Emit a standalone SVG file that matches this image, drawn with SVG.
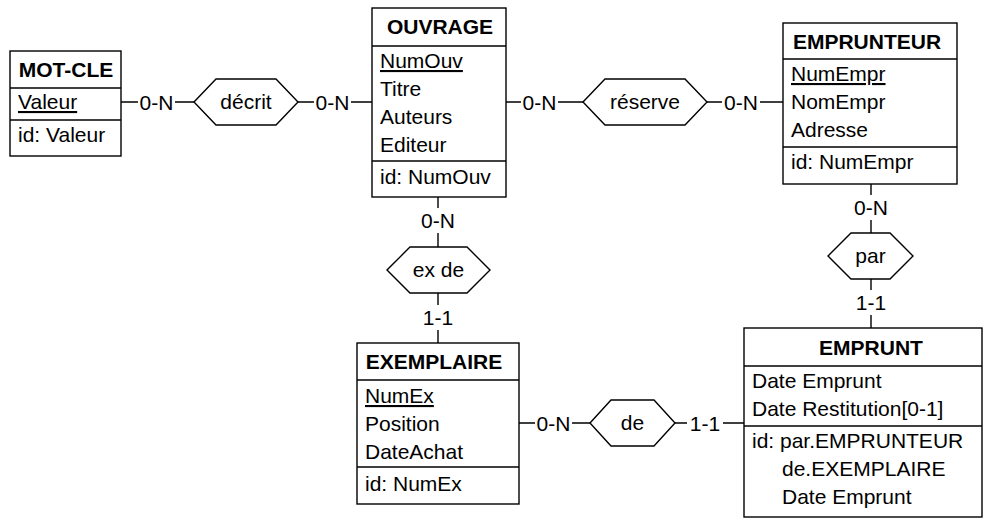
<svg xmlns="http://www.w3.org/2000/svg" width="984" height="519" viewBox="0 0 984 519">
<style>
.box{fill:#fff;stroke:#000;stroke-width:1.4}
.sep{stroke:#000;stroke-width:1.4}
.hex{fill:#fff;stroke:#000;stroke-width:1.4}
.ln{stroke:#000;stroke-width:1.4;fill:none}
text{font-family:"Liberation Sans",Arial,sans-serif;font-size:21px;fill:#000}
.t{font-weight:bold;text-anchor:middle}
.c{text-anchor:middle}
.u{text-decoration:underline}
</style>
<rect width="984" height="519" fill="#fff"/>
<g id="connectors">
  <!-- MOT-CLE - decrit - OUVRAGE -->
  <path class="ln" d="M121,102H138M175,102H194M298,102H314M351,102H372"/>
  <text class="c" x="156.5" y="109.5">0-N</text>
  <text class="c" x="332.5" y="109.5">0-N</text>
  <!-- OUVRAGE - reserve - EMPRUNTEUR -->
  <path class="ln" d="M506,102H521M558,102H583M707,102H722M760,102H783"/>
  <text class="c" x="539.5" y="109.5">0-N</text>
  <text class="c" x="741" y="109.5">0-N</text>
  <!-- OUVRAGE - ex de - EXEMPLAIRE -->
  <path class="ln" d="M438,197V208M438,233V247M438,293V305M438,330V343"/>
  <text class="c" x="438" y="228">0-N</text>
  <text class="c" x="438" y="325">1-1</text>
  <!-- EMPRUNTEUR - par - EMPRUNT -->
  <path class="ln" d="M871,184V195M871,220V233M871,279V290M871,315V328"/>
  <text class="c" x="871" y="215">0-N</text>
  <text class="c" x="871" y="310">1-1</text>
  <!-- EXEMPLAIRE - de - EMPRUNT -->
  <path class="ln" d="M519,423H535M572,423H590M675,423H687M723,423H744"/>
  <text class="c" x="553.5" y="430.5">0-N</text>
  <text class="c" x="705" y="430.5">1-1</text>
</g>
<g id="decrit">
  <polygon class="hex" points="194,102 216,79 276,79 298,102 276,125 216,125"/>
  <text class="c" x="246" y="109">décrit</text>
</g>
<g id="reserve">
  <polygon class="hex" points="583,102 605,79 685,79 707,102 685,125 605,125"/>
  <text class="c" x="645" y="109">réserve</text>
</g>
<g id="exde">
  <polygon class="hex" points="387,270 410,247 467,247 490,270 467,293 410,293"/>
  <text class="c" x="438.5" y="277">ex de</text>
</g>
<g id="par">
  <polygon class="hex" points="828,256 851,233 890,233 913,256 890,279 851,279"/>
  <text class="c" x="870.5" y="263">par</text>
</g>
<g id="de">
  <polygon class="hex" points="590,423 611,400 654,400 675,423 654,446 611,446"/>
  <text class="c" x="632.5" y="430">de</text>
</g>
<g id="motcle">
  <rect class="box" x="10" y="51" width="111" height="105"/>
  <line class="sep" x1="10" y1="88" x2="121" y2="88"/>
  <line class="sep" x1="10" y1="120" x2="121" y2="120"/>
  <text class="t" x="66" y="77">MOT-CLE</text>
  <text class="u" x="18" y="109">Valeur</text>
  <text x="18" y="142">id: Valeur</text>
</g>
<g id="ouvrage">
  <rect class="box" x="372" y="8" width="134" height="189"/>
  <line class="sep" x1="372" y1="46" x2="506" y2="46"/>
  <line class="sep" x1="372" y1="161" x2="506" y2="161"/>
  <text class="t" x="440" y="34">OUVRAGE</text>
  <text class="u" x="380" y="68">NumOuv</text>
  <text x="380" y="96">Titre</text>
  <text x="380" y="124">Auteurs</text>
  <text x="380" y="152">Editeur</text>
  <text x="380" y="184">id: NumOuv</text>
</g>
<g id="emprunteur">
  <rect class="box" x="783" y="23" width="174" height="161"/>
  <line class="sep" x1="783" y1="59" x2="957" y2="59"/>
  <line class="sep" x1="783" y1="147" x2="957" y2="147"/>
  <text class="t" x="867" y="49">EMPRUNTEUR</text>
  <text class="u" x="791" y="81">NumEmpr</text>
  <text x="791" y="109">NomEmpr</text>
  <text x="791" y="137">Adresse</text>
  <text x="791" y="169">id: NumEmpr</text>
</g>
<g id="exemplaire">
  <rect class="box" x="357" y="343" width="162" height="161"/>
  <line class="sep" x1="357" y1="380" x2="519" y2="380"/>
  <line class="sep" x1="357" y1="467" x2="519" y2="467"/>
  <text class="t" x="434" y="369">EXEMPLAIRE</text>
  <text class="u" x="365" y="403">NumEx</text>
  <text x="365" y="431">Position</text>
  <text x="365" y="459">DateAchat</text>
  <text x="365" y="491">id: NumEx</text>
</g>
<g id="emprunt">
  <rect class="box" x="744" y="328" width="238" height="189"/>
  <line class="sep" x1="744" y1="366" x2="982" y2="366"/>
  <line class="sep" x1="744" y1="426" x2="982" y2="426"/>
  <text class="t" x="871" y="355">EMPRUNT</text>
  <text x="752" y="388">Date Emprunt</text>
  <text x="752" y="416">Date Restitution[0-1]</text>
  <text x="752" y="448">id: par.EMPRUNTEUR</text>
  <text x="782" y="476">de.EXEMPLAIRE</text>
  <text x="782" y="504">Date Emprunt</text>
</g>
</svg>
